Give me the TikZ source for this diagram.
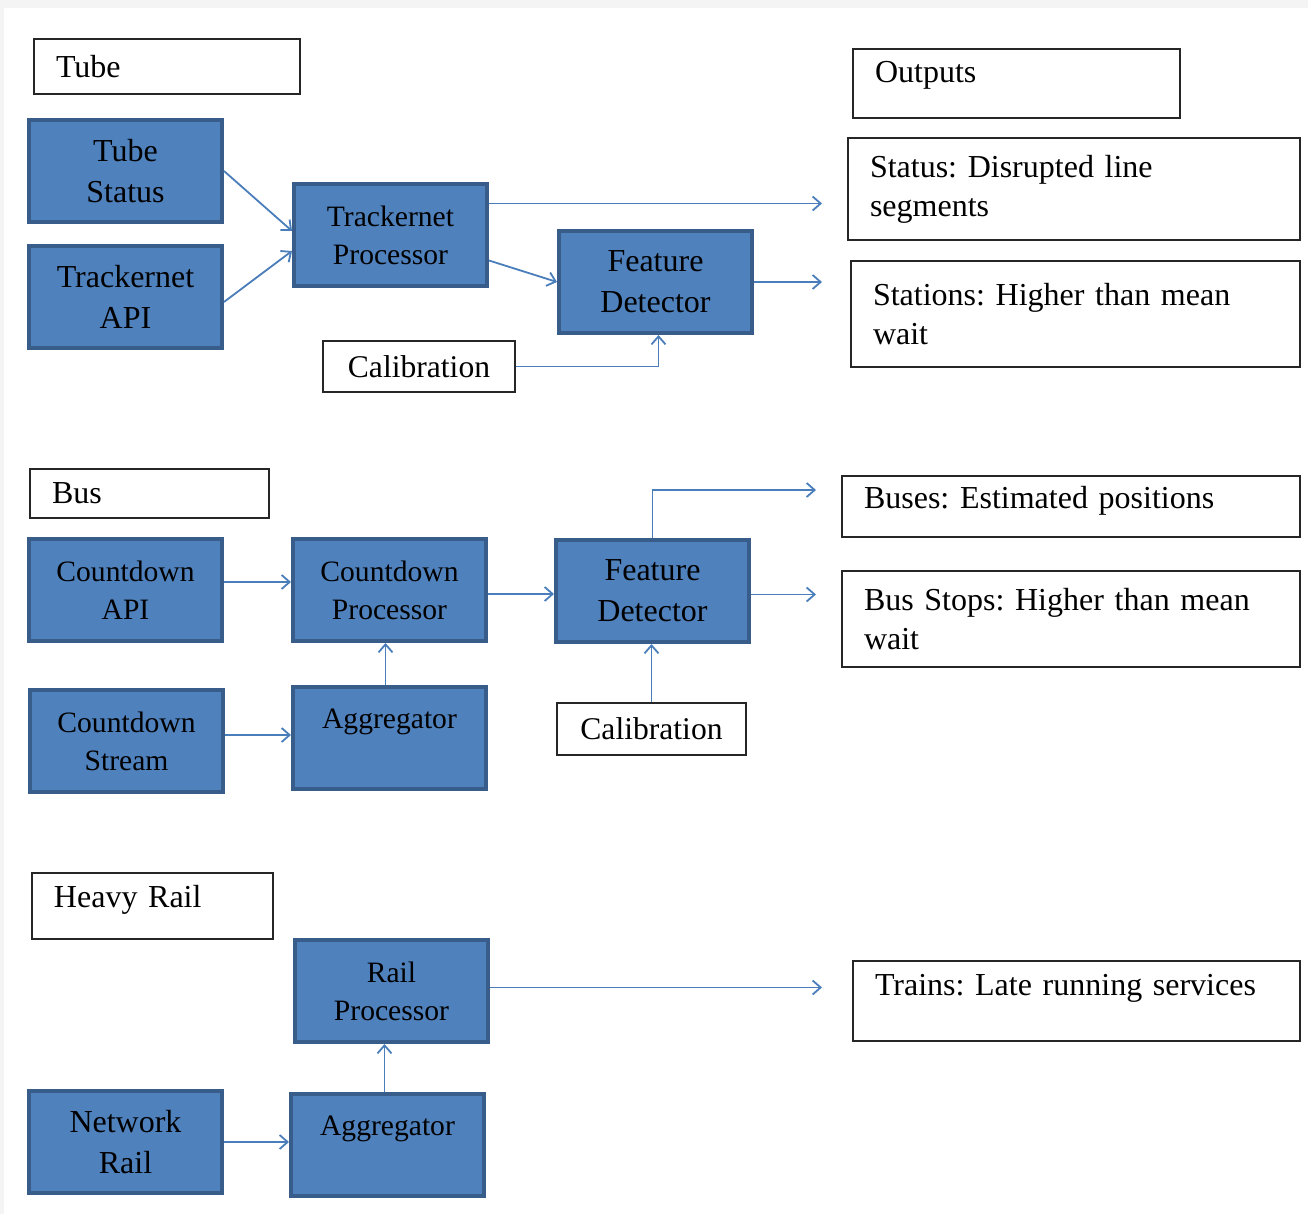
\documentclass[tikz,border=0pt]{standalone}
\usepackage{fontspec}
\setmainfont{Liberation Serif}
\frenchspacing
\usetikzlibrary{arrows.meta, positioning, calc}
\definecolor{BoxBlue}{RGB}{79, 129, 189}
\definecolor{BoxEdge}{RGB}{56, 93, 138}
\definecolor{FlowBlue}{RGB}{74, 126, 187}
\definecolor{PageGray}{RGB}{244, 244, 244}

\begin{document}
\begin{tikzpicture}[x=0.5pt, y=-0.5pt,
    blk/.style={draw=BoxEdge, fill=BoxBlue, line width=2pt, minimum width=96.5pt, minimum height=51pt, anchor=north west, align=center, inner sep=2pt},
    bigtxt/.style={font=\fontsize{16}{20.5}\selectfont},
    smalltxt/.style={font=\fontsize{14.8}{19}\selectfont},
    lbl/.style={draw=black!85, line width=1pt, anchor=north west, align=left, inner xsep=11pt, font=\fontsize{16}{19.5}\selectfont},
    calbox/.style={draw=black!85, line width=1pt, anchor=north west, align=center, font=\fontsize{15.8}{19}\selectfont},
    flow/.style={draw=FlowBlue, line width=0.9pt, -{Straight Barb[length=4pt,width=7pt]}}]
    \useasboundingbox (0,0) rectangle (1308,1214);
    \fill[PageGray] (0,0) rectangle (1308,1214);
    \fill[white] (4,8) rectangle (1308,1214);

    \node[lbl, text width=111pt, minimum height=27.5pt] (tube) at (33,38) {Tube};
    \node[blk, bigtxt] (ts) at (27,118) {Tube\\Status};
    \node[blk, bigtxt] (tapi) at (27,244) {Trackernet\\API};
    \node[blk, smalltxt] (tp) at (292,182) {Trackernet\\Processor};
    \node[blk, bigtxt] (fd1) at (557,229) {Feature\\Detector};
    \node[calbox, minimum width=96pt, minimum height=25.5pt] (cal1) at (322,340) {Calibration};

    \node[lbl, text width=141.5pt, minimum height=34.5pt, text depth=11.5pt] (outputs) at (852,48) {Outputs};
    \node[lbl, text width=204pt, minimum height=51pt] (status) at (847,137) {Status: Disrupted line\\segments};
    \node[lbl, text width=202.5pt, minimum height=53pt] (stations) at (850,260) {Stations: Higher than mean\\wait};

    \node[lbl, text width=97.5pt, minimum height=24.5pt] (bus) at (29,468) {Bus};
    \node[blk, smalltxt] (capi) at (27,537) {Countdown\\API};
    \node[blk, smalltxt] (cp) at (291,537) {Countdown\\Processor};
    \node[blk, smalltxt] (cs) at (28,688) {Countdown\\Stream};
    \node[blk, smalltxt] (agg1) at (291,685) {Aggregator\\~};
    \node[blk, bigtxt] (fd2) at (554,538) {Feature\\Detector};
    \node[calbox, minimum width=94.5pt, minimum height=26pt] (cal2) at (556,702) {Calibration};
    \node[lbl, text width=207pt, minimum height=30.5pt, text depth=9.5pt] (buses) at (841,475) {Buses: Estimated positions};
    \node[lbl, text width=207pt, minimum height=48pt] (stops) at (841,570) {Bus Stops: Higher than mean\\wait};

    \node[lbl, text width=98.5pt, minimum height=33pt, text depth=9.5pt] (heavy) at (31,872) {Heavy Rail};
    \node[blk, smalltxt] (rp) at (293,938) {Rail\\Processor};
    \node[blk, bigtxt] (nr) at (27,1089) {Network\\Rail};
    \node[blk, smalltxt] (agg2) at (289,1092) {Aggregator\\~};
    \node[lbl, text width=201.5pt, minimum height=40pt, text depth=16.5pt] (trains) at (852,960) {Trains: Late running services};

    \draw[flow] (ts.east) -- ([yshift=2pt]tp.west);
    \draw[flow] ([yshift=-2.5pt]tapi.east) -- ([yshift=-8pt]tp.west);
    \draw[flow, shorten >=12.5pt] ([yshift=15.75pt]tp.east) -- ([yshift=15.75pt]tp.east -| status.west);
    \draw[flow] ([yshift=-12.75pt]tp.east) -- (fd1.west);
    \draw[flow, shorten >=14pt] (fd1.east) -- (fd1.east -| stations.west);
    \draw[flow] (cal1.east) -| ([xshift=1.5pt]fd1.south);

    \draw[flow] ([yshift=4pt]capi.east) -- ([yshift=4pt]capi.east -| cp.west);
    \draw[flow] ([yshift=3pt]cs.east) -- ([yshift=3pt]cs.east -| agg1.west);
    \draw[flow] ([xshift=-2pt]agg1.north) -- ([xshift=-2pt]agg1.north |- cp.south);
    \draw[flow] ([yshift=-2pt]cp.east) -- ([yshift=-2pt]cp.east -| fd2.west);
    \draw[flow, shorten >=12.5pt] ([yshift=-1.75pt]fd2.east) -- ([yshift=-1.75pt]fd2.east -| stops.west);
    \draw[flow, shorten >=12.5pt] (fd2.north) |- ([yshift=8.25pt]buses.west);
    \draw[flow] (cal2.north) -- (cal2.north |- fd2.south);

    \draw[flow] (nr.east) -- (nr.east -| agg2.west);
    \draw[flow] ([xshift=-1.5pt]agg2.north) -- ([xshift=-1.5pt]agg2.north |- rp.south);
    \draw[flow, shorten >=15pt] ([yshift=1.75pt]rp.east) -- ([yshift=1.75pt]rp.east -| trains.west);
\end{tikzpicture}
\end{document}
